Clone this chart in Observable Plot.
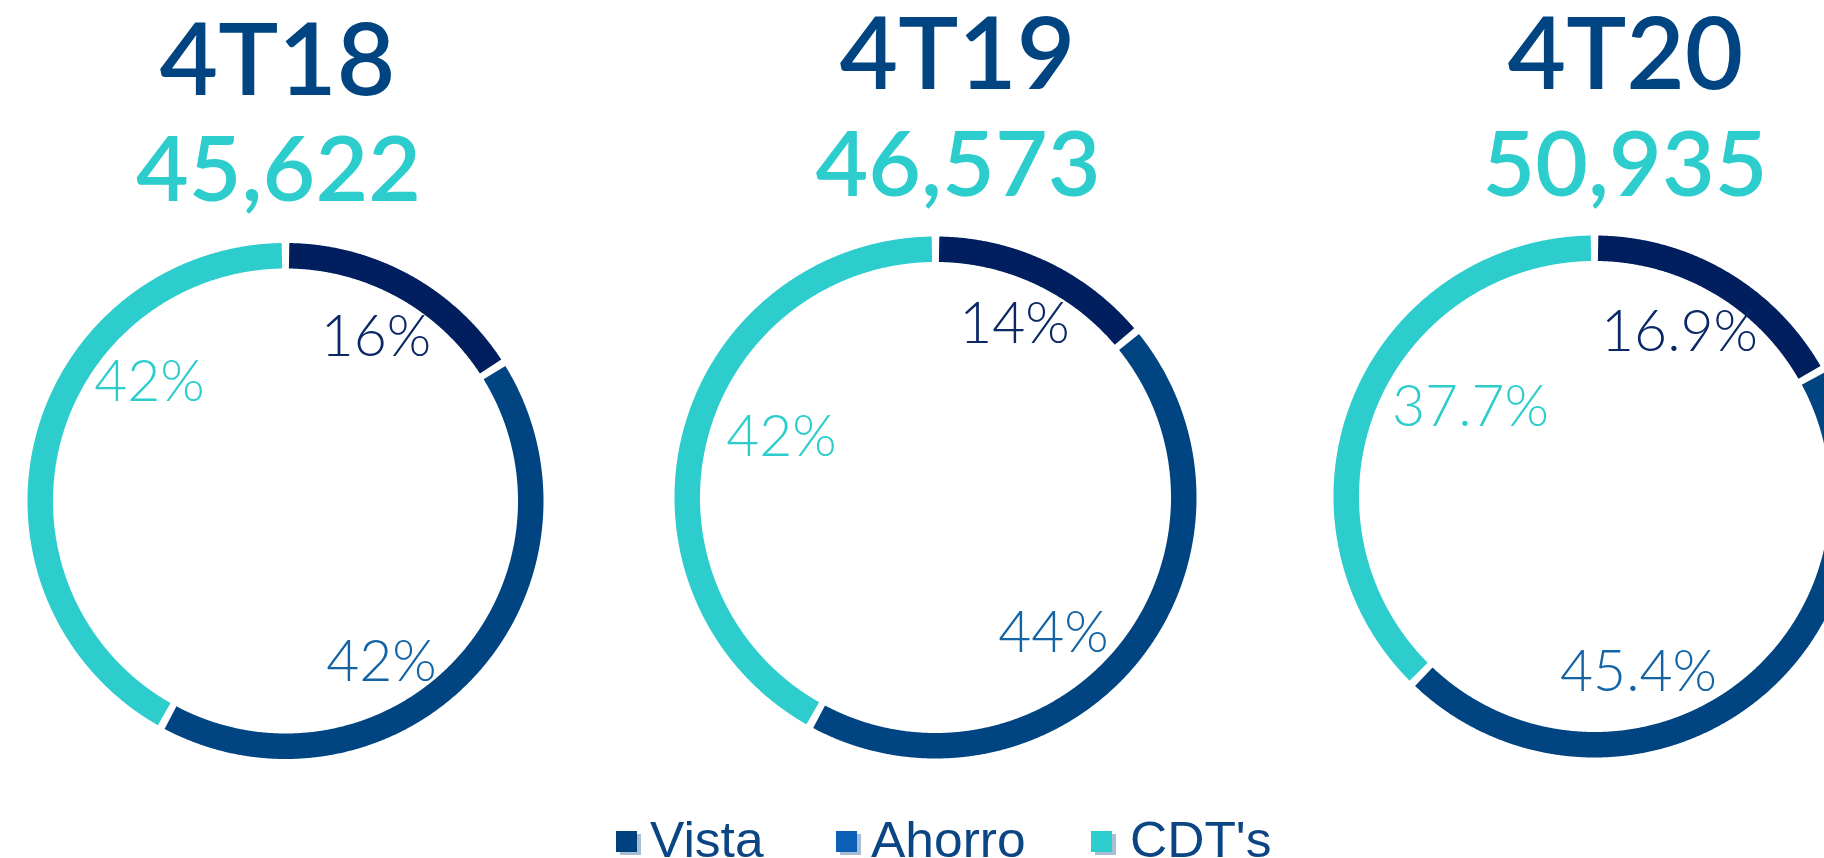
<!DOCTYPE html>
<html><head><meta charset="utf-8">
<script src="https://cdn.jsdelivr.net/npm/d3@7"></script>
<script src="https://cdn.jsdelivr.net/npm/@observablehq/plot@0.6"></script>
<style>
html,body{margin:0;padding:0;background:#fff;overflow:hidden;}
#chart svg{display:block}
#legend{position:relative;width:1824px;height:48px;font-family:"Liberation Sans",Arial,sans-serif;font-size:50px;line-height:50px;color:#0b4584;}
.item{position:absolute;top:5px;white-space:nowrap;transform-origin:0 0;transform:scaleX(1.03)}
.sw{position:absolute;width:21px;height:21px;box-shadow:4px 3px 0 #a9bdd4}
</style></head><body>
<div id="chart"></div><div id="legend"></div>
<script>
// ---- data ----
const periods = ["4T18", "4T19", "4T20"];
const totals = ["45,622", "46,573", "50,935"];
const categories = ["Vista", "Ahorro", "CDT's"];
const vista = [16, 14, 16.9];
const ahorro = [42, 44, 45.4];
const cdts = [42, 42, 37.7];

// ---- styles / layout ----
const ringColors = {"Vista": "#011f5e", "Ahorro": "#004481", "CDT's": "#2dcccd"};
const labelColors = {"Vista": "#0a2766", "Ahorro": "#1464a5", "CDT's": "#2dcccd"};
const legendColors = {"Vista": "#00427f", "Ahorro": "#0b5fb4", "CDT's": "#2dcccd"};
const W = 1824, H = 810, TH = 25.5;
const donuts = [{cx: 285, cy: 500.5, R: 258}, {cx: 935, cy: 497, R: 261}, {cx: 1594, cy: 496, R: 261}];
const titleX = [277, 957, 1625], titleTop = [23, 17, 17];
const valueX = [278, 957.5, 1624.5], valueTop = [136, 131, 131];
// label anchors (center x, cap top) per donut, per category order Vista, Ahorro, CDT's
const labelAnchors = [
  [[375.5, 315], [381, 640], [149, 360]],
  [[1014, 302], [1053, 611], [781, 415]],
  [[1679, 310], [1638, 650], [1470, 385]]
];
const legendLeft = [616, 836, 1091], legendTextGap = [13, 14, 18];

// ---- build geometry ----
const arcPts = [];
const labels = [];
donuts.forEach((d, i) => {
  const vals = [vista[i], ahorro[i], cdts[i]];
  const total = d3.sum(vals);
  const rm = d.R - TH / 2;
  const pad = 3.6 / rm;
  let a0 = 0;
  vals.forEach((v, j) => {
    const a1 = a0 + v / total * 2 * Math.PI;
    const s = a0 + pad, e = a1 - pad;
    const n = Math.max(2, Math.ceil((e - s) / (Math.PI / 720)));
    for (let k = 0; k <= n; k++) {
      const a = s + (e - s) * k / n;
      arcPts.push({key: i + "-" + j, cat: categories[j], x: d.cx + rm * Math.sin(a), y: d.cy - rm * Math.cos(a)});
    }
    a0 = a1;
    labels.push({cat: categories[j], text: `${v}%`, x: labelAnchors[i][j][0], y: labelAnchors[i][j][1]});
  });
});
const titles = periods.map((p, i) => ({text: p, x: titleX[i], y: titleTop[i]}));
const values = totals.map((t, i) => ({text: t, x: valueX[i], y: valueTop[i]}));

const chart = Plot.plot({
  width: W, height: H, margin: 0,
  x: {domain: [0, W], range: [0, W], axis: null},
  y: {domain: [0, H], range: [0, H], axis: null},
  color: {type: "identity"},
  marks: [
    Plot.line(arcPts, {x: "x", y: "y", z: "key", stroke: d => ringColors[d.cat], strokeWidth: TH, strokeLinecap: "butt", strokeLinejoin: "round"}),
    Plot.text(titles, {x: "x", y: "y", text: "text", fill: "#004481", fontSize: 101, fontWeight: 600, fontFamily: "Lato, Roboto, sans-serif", lineAnchor: "top"}),
    Plot.text(values, {x: "x", y: "y", text: "text", fill: "#2dcccd", fontSize: 91, fontWeight: 600, fontFamily: "Lato, Roboto, sans-serif", lineAnchor: "top"}),
    Plot.text(labels, {x: "x", y: "y", text: "text", fill: d => labelColors[d.cat], fontSize: 57, fontWeight: 300, fontFamily: "Lato, Roboto, sans-serif", lineAnchor: "top"})
  ]
});
document.getElementById("chart").append(chart);

const legend = document.getElementById("legend");
categories.forEach((c, i) => {
  const sw = document.createElement("div");
  sw.className = "sw";
  sw.style.left = legendLeft[i] + "px";
  sw.style.top = "21px";
  sw.style.background = legendColors[c];
  legend.append(sw);
  const t = document.createElement("div");
  t.className = "item";
  t.style.left = (legendLeft[i] + 21 + legendTextGap[i]) + "px";
  t.textContent = c;
  legend.append(t);
});
</script>
</body></html>
